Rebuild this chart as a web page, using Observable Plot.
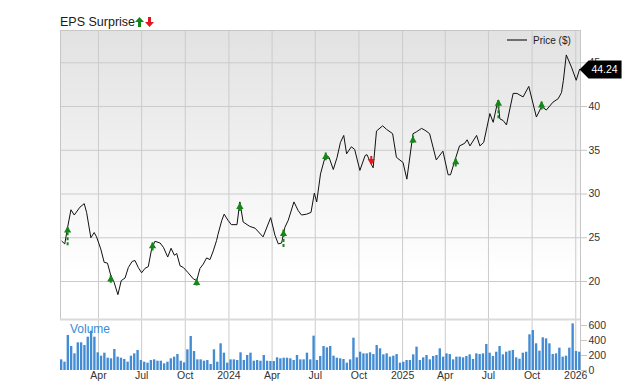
<!DOCTYPE html>
<html>
<head>
<meta charset="utf-8">
<script src="https://cdn.jsdelivr.net/npm/d3@7"></script>
<script src="https://cdn.jsdelivr.net/npm/@observablehq/plot@0.6"></script>
<style>
  body { margin: 0; background: #fff; font-family: "Liberation Sans", Arial, Helvetica, sans-serif; }
  #chart { position: relative; width: 640px; height: 382px; overflow: hidden; }
  #chart svg.layer { position: absolute; left: 0; top: 0; }
  .title { position: absolute; left: 60px; top: 16px; font-size: 12.5px; line-height: 1; color: #1a1a1a; white-space: nowrap; }
  .title svg { vertical-align: -1px; }
  .legend { position: absolute; left: 507px; top: 36px; font-size: 10px; line-height: 1; color: #222; white-space: nowrap; }
  .legend .sw { display: inline-block; width: 20px; height: 2.5px; background: #6e6e6e; vertical-align: 3px; margin-right: 6px; }
  .vol-label { position: absolute; left: 70px; top: 323px; font-size: 12px; line-height: 1; color: #3a8bd6; }
</style>
</head>
<body>
<div id="chart"></div>
<script>
// ---------- data ----------
const priceDates = ["2023-01-14","2023-01-20","2023-01-26","2023-02-02","2023-02-09","2023-02-21","2023-03-02","2023-03-07","2023-03-16","2023-03-23","2023-03-28","2023-04-06","2023-04-13","2023-04-20","2023-04-27","2023-05-04","2023-05-12","2023-05-19","2023-05-27","2023-06-03","2023-06-11","2023-06-17","2023-06-24","2023-07-01","2023-07-08","2023-07-15","2023-07-22","2023-07-29","2023-08-09","2023-08-16","2023-08-25","2023-09-01","2023-09-08","2023-09-13","2023-09-20","2023-09-27","2023-10-07","2023-10-18","2023-10-25","2023-11-01","2023-11-08","2023-11-15","2023-11-22","2023-11-29","2023-12-06","2023-12-09","2023-12-17","2023-12-22","2023-12-30","2024-01-06","2024-01-18","2024-01-24","2024-01-31","2024-02-14","2024-02-25","2024-03-13","2024-03-29","2024-04-07","2024-04-14","2024-04-21","2024-04-28","2024-05-05","2024-05-17","2024-05-26","2024-06-02","2024-06-13","2024-06-22","2024-06-29","2024-07-04","2024-07-12","2024-07-23","2024-07-30","2024-08-08","2024-08-16","2024-08-23","2024-08-30","2024-09-05","2024-09-15","2024-09-22","2024-10-03","2024-10-14","2024-10-18","2024-10-28","2024-10-31","2024-11-07","2024-11-20","2024-11-28","2024-12-11","2024-12-19","2025-01-02","2025-01-10","2025-01-23","2025-01-30","2025-02-10","2025-02-17","2025-02-27","2025-03-13","2025-03-27","2025-04-07","2025-04-12","2025-04-21","2025-05-01","2025-05-12","2025-05-17","2025-05-23","2025-06-06","2025-06-13","2025-06-21","2025-07-04","2025-07-11","2025-07-21","2025-07-25","2025-08-01","2025-08-08","2025-08-22","2025-08-30","2025-09-12","2025-09-24","2025-10-10","2025-10-21","2025-10-31","2025-11-14","2025-11-25","2025-12-02","2025-12-06","2025-12-12","2025-12-23","2026-01-02","2026-01-09"];
const priceValues = [24.6,24.3,26.2,28.2,27.6,28.5,28.9,27.9,25.0,25.6,25.1,23.7,22.2,22.1,20.7,19.9,18.5,20.1,20.4,21.6,22.3,22.4,21.6,21.0,21.5,21.7,23.7,24.6,24.4,23.9,22.8,23.8,23.0,23.2,21.8,21.6,21.0,20.3,20.1,21.5,22.0,22.7,22.5,23.5,24.7,25.4,27.0,27.7,27.0,26.5,26.5,29.1,26.8,26.3,26.1,25.1,27.3,25.3,24.3,24.4,26.2,27.0,29.1,28.1,27.6,27.7,27.9,30.1,29.1,32.3,34.5,34.2,32.8,34.2,35.9,36.7,34.6,35.4,35.1,32.7,34.4,34.5,33.3,33.0,37.2,37.8,37.4,36.9,34.2,33.6,31.7,36.9,37.1,37.5,37.3,36.9,33.9,34.9,32.2,32.2,33.8,35.5,35.8,36.2,35.5,36.7,35.5,35.9,39.2,38.2,40.7,38.6,38.4,37.9,41.5,41.5,41.1,42.3,38.8,40.0,39.6,40.5,40.9,41.6,43.0,45.9,44.5,43.0,44.24];

const volumeStart = "2023-01-11"; // first weekly bar
const volumeValues = [142,111,467,320,222,369,369,333,444,524,444,236,191,231,164,156,280,178,164,147,111,191,222,267,133,111,98,133,142,124,124,89,111,156,178,213,124,102,276,453,253,142,142,124,133,80,276,111,356,231,98,142,142,133,236,133,200,231,124,133,124,200,124,120,120,169,156,164,164,156,133,200,142,142,231,142,458,133,187,320,302,
  320,191,164,156,147,98,142,431,169,244,222,222,236,213,333,289,209,222,178,191,213,98,111,133,133,209,311,133,169,200,142,187,200,289,178,222,213,142,178,178,169,187,209,147,222,213,222,347,231,187,244,320,209,244,258,267,169,151,231,244,476,533,356,258,436,422,356,213,222,298,178,191,298,622,253,244];

const epsDates = ["2023-01-26","2023-04-27","2023-07-24","2023-10-25","2024-01-24","2024-04-25","2024-07-23","2024-10-27","2025-01-23","2025-04-23","2025-07-22","2025-10-21"];
const epsHigh = [26.3,20.7,24.5,20.3,29.0,25.9,34.7,34.3,36.6,34.1,40.8,40.6];
const epsLow  = [24.1,19.8,23.5,19.5,28.0,23.9,33.8,33.3,35.8,33.1,38.6,39.6];
const epsDir  = ["up","up","up","up","up","up","up","down","up","up","up","up"];

const priceTicks = [20,25,30,35,40,45];
const volumeTicks = [0,200,400,600];
const quarterTicks = ["2023-04-01","2023-07-01","2023-10-01","2024-01-01","2024-04-01","2024-07-01","2024-10-01","2025-01-01","2025-04-01","2025-07-01","2025-10-01","2026-01-01"];
const xDomain = ["2023-01-11","2026-01-11"];
const priceDomain = [15.66, 48.69];
const volumeDomain = [0, 680];
const lastPrice = 44.24;

// ---------- build ----------
const FONT = "'Liberation Sans', Arial, Helvetica, sans-serif";
const price = priceDates.map((d, i) => ({date: new Date(d), price: priceValues[i]}));
const volume = volumeValues.map((v, i) => {
  const date = d3.utcDay.offset(new Date(volumeStart), 7 * i);
  return {date, end: d3.utcDay.offset(date, 5), vol: v};
});
const eps = epsDates.map((d, i) => ({date: new Date(d), high: epsHigh[i], low: epsLow[i], dir: epsDir[i]}));
const epsUp = eps.filter(d => d.dir === "up");
const epsDown = eps.filter(d => d.dir === "down");
const quarters = quarterTicks.map(d => new Date(d));
const xDom = xDomain.map(d => new Date(d));
const last = {date: price[price.length - 1].date, price: lastPrice};
const fmt = d => d.getUTCMonth() === 0 ? String(d.getUTCFullYear()) : d3.utcFormat("%b")(d);

const GRID = "#cbcbcb";
const GREEN = "#17861a";
const RED = "#e5161d";

const tagSymbol = {
  draw(ctx) {
    ctx.moveTo(0, 0);
    ctx.lineTo(9, -9);
    ctx.lineTo(42, -9);
    ctx.lineTo(42, 9);
    ctx.lineTo(9, 9);
    ctx.closePath();
  }
};

const style = {fontFamily: FONT, fontSize: "10.5px", color: "#333", background: "transparent", overflow: "visible"};

const pricePlot = Plot.plot({
  width: 640, height: 382,
  marginLeft: 60, marginRight: 60, marginTop: 30, marginBottom: 63,
  style,
  x: {type: "utc", domain: xDom, axis: null},
  y: {domain: priceDomain, axis: null},
  marks: [
    Plot.frame({fill: "url(#priceBg)"}),
    Plot.ruleX(quarters, {stroke: GRID}),
    Plot.ruleY(priceTicks, {stroke: GRID}),
    Plot.frame({stroke: "#c6c6c6"}),
    Plot.axisY(priceTicks, {anchor: "right", tickSize: 6, tickPadding: 2, stroke: "#c6c6c6", fill: "#333", label: null}),
    Plot.line(price, {x: "date", y: "price", stroke: "#111", strokeWidth: 1}),
    Plot.ruleX(epsUp, {x: "date", y1: "low", y2: "high", stroke: GREEN, strokeWidth: 2, strokeDasharray: "3,2"}),
    Plot.dot(epsUp, {x: "date", y: "high", symbol: "triangle", r: 2.7, fill: GREEN, stroke: null, dy: 4}),
    Plot.ruleX(epsDown, {x: "date", y1: "high", y2: "low", stroke: RED, strokeWidth: 2, strokeDasharray: "3,2"}),
    Plot.dot(epsDown, {x: "date", y: "low", symbol: "triangle", rotate: 180, r: 2.7, fill: RED, stroke: null, dy: -4}),
    Plot.dot([last], {x: "date", y: "price", symbol: tagSymbol, fill: "#000", stroke: null}),
    Plot.text([last], {x: "date", y: "price", text: d => d.price.toFixed(2), dx: 25, fill: "#fff", fontSize: 10.5})
  ]
});
pricePlot.classList.add("layer");
d3.select(pricePlot).insert("defs", ":first-child").html(
  '<linearGradient id="priceBg" x1="0" y1="0" x2="0" y2="1">' +
  '<stop offset="0" stop-color="#e2e2e2"/><stop offset="0.85" stop-color="#ffffff"/></linearGradient>'
);

const volumePlot = Plot.plot({
  width: 640, height: 382,
  marginLeft: 60, marginRight: 60, marginTop: 319, marginBottom: 12,
  style,
  x: {type: "utc", domain: xDom, axis: null},
  y: {domain: volumeDomain, axis: null},
  marks: [
    Plot.ruleX(quarters, {stroke: GRID}),
    Plot.ruleX([xDom[1]], {stroke: "#c6c6c6"}),
    Plot.rectY(volume, {x1: "date", x2: "end", y: "vol", fill: "#438cd4"}),
    Plot.ruleY([volumeDomain[1]], {stroke: "#dadada", strokeWidth: 2}),
    Plot.axisY(volumeTicks, {anchor: "right", tickSize: 6, tickPadding: 2, stroke: "#c6c6c6", fill: "#333", label: null}),
    Plot.axisX(quarters, {anchor: "bottom", tickSize: 0, tickPadding: 1.5, tickFormat: fmt, fill: "#333", label: null})
  ]
});
volumePlot.classList.add("layer");

const chart = document.getElementById("chart");
chart.appendChild(pricePlot);
chart.appendChild(volumePlot);

const title = document.createElement("div");
title.className = "title";
title.innerHTML = 'EPS Surprise<svg width="9" height="10" viewBox="0 0 9 10"><polygon points="4.5,0 9,5 6,5 6,10 3,10 3,5 0,5" fill="' + GREEN + '"/></svg>' +
  '<svg width="9" height="10" viewBox="0 0 9 10" style="margin-left:1px"><polygon points="4.5,10 9,5 6,5 6,0 3,0 3,5 0,5" fill="' + RED + '"/></svg>';
chart.appendChild(title);

const legend = document.createElement("div");
legend.className = "legend";
legend.innerHTML = '<span class="sw"></span>Price ($)';
chart.appendChild(legend);

const vl = document.createElement("div");
vl.className = "vol-label";
vl.textContent = "Volume";
chart.appendChild(vl);
</script>
</body>
</html>
